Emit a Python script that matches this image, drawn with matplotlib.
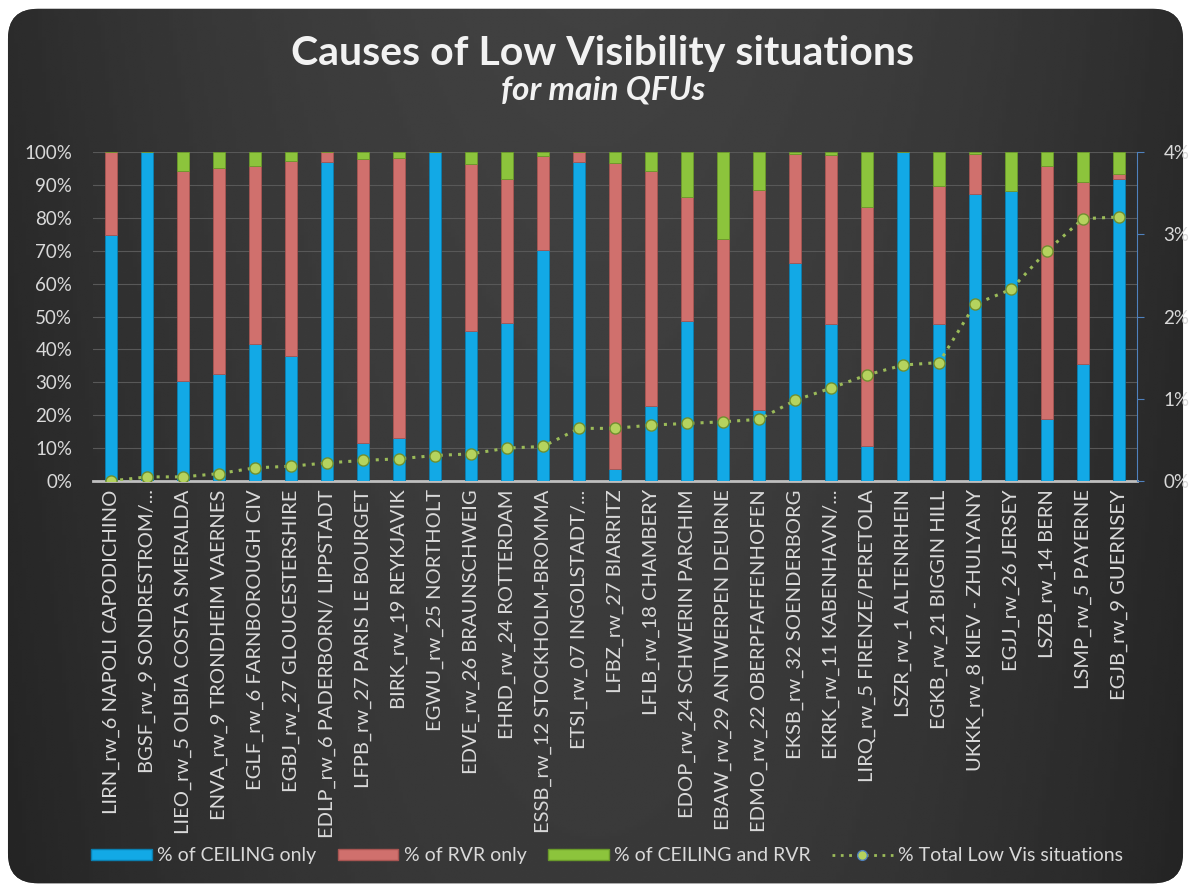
import matplotlib
matplotlib.use("Agg")
import matplotlib.pyplot as plt
import numpy as np
from matplotlib.patches import FancyBboxPatch
from matplotlib.lines import Line2D
from matplotlib.patches import Patch
from matplotlib.ticker import PercentFormatter

categories = [
    "LIRN_rw_6 NAPOLI CAPODICHINO", "BGSF_rw_9 SONDRESTROM/...", "LIEO_rw_5 OLBIA COSTA SMERALDA",
    "ENVA_rw_9 TRONDHEIM VAERNES", "EGLF_rw_6 FARNBOROUGH CIV", "EGBJ_rw_27 GLOUCESTERSHIRE",
    "EDLP_rw_6 PADERBORN/ LIPPSTADT", "LFPB_rw_27 PARIS LE BOURGET", "BIRK_rw_19 REYKJAVIK",
    "EGWU_rw_25 NORTHOLT", "EDVE_rw_26 BRAUNSCHWEIG", "EHRD_rw_24 ROTTERDAM",
    "ESSB_rw_12 STOCKHOLM-BROMMA", "ETSI_rw_07 INGOLSTADT/...", "LFBZ_rw_27 BIARRITZ",
    "LFLB_rw_18 CHAMBERY", "EDOP_rw_24 SCHWERIN PARCHIM", "EBAW_rw_29 ANTWERPEN DEURNE",
    "EDMO_rw_22 OBERPFAFFENHOFEN", "EKSB_rw_32 SOENDERBORG", "EKRK_rw_11 KABENHAVN/...",
    "LIRQ_rw_5 FIRENZE/PERETOLA", "LSZR_rw_1 ALTENRHEIN", "EGKB_rw_21 BIGGIN HILL",
    "UKKK_rw_8 KIEV - ZHULYANY", "EGJJ_rw_26 JERSEY", "LSZB_rw_14 BERN",
    "LSMP_rw_5 PAYERNE", "EGJB_rw_9 GUERNSEY",
]

ceiling_only = [74.8, 100, 30.5, 32.6, 41.5, 37.9, 96.9, 11.7, 13.0, 100, 45.7, 47.9, 70.3, 97.0,
                3.6, 22.8, 48.7, 18.5, 21.5, 66.3, 47.7, 10.7, 100, 47.7, 87.2, 88.3, 18.9, 35.7, 91.8]
rvr_only = [25.2, 0, 63.7, 62.6, 54.4, 59.4, 3.1, 86.1, 85.3, 0, 50.7, 44.0, 28.4, 3.0,
            93.0, 71.4, 37.6, 55.1, 67.0, 33.2, 51.3, 72.5, 0, 42.1, 12.3, 0, 77.0, 55.1, 1.6]
both = [0, 0, 5.8, 4.8, 4.1, 2.7, 0, 2.2, 1.7, 0, 3.6, 8.1, 1.3, 0,
        3.4, 5.8, 13.7, 26.4, 11.5, 0.5, 1.0, 16.8, 0, 10.2, 0.5, 11.7, 4.1, 9.2, 6.6]
total_low_vis = [0.00, 0.05, 0.05, 0.09, 0.16, 0.18, 0.22, 0.25, 0.27, 0.31, 0.33, 0.40, 0.42, 0.64,
                 0.64, 0.68, 0.70, 0.72, 0.75, 0.98, 1.13, 1.29, 1.41, 1.44, 2.15, 2.33, 2.80, 3.19, 3.21]

C_BLUE = "#12a9e6"
C_RED = "#d0706d"
C_GREEN = "#8cc43c"
C_LINE = "#9bbb59"
TXT = "#d9d9d9"
FONT = ["Lato", "DejaVu Sans"]

fig = plt.figure(figsize=(11.91, 8.85), dpi=100)
fig.patch.set_facecolor("white")

# background panel with gradient
bg = fig.add_axes([0, 0, 1, 1], zorder=-10)
bg.set_xlim(0, 1)
bg.set_ylim(0, 1)
bg.axis("off")
panel = FancyBboxPatch((0.0067, 0.002), 0.9866, 0.988,
                       boxstyle="round,pad=0,rounding_size=0.025",
                       mutation_aspect=1191 / 885,
                       transform=bg.transAxes, facecolor="#363636", edgecolor="none", zorder=1)
bg.add_patch(panel)
yy, xx = np.mgrid[0:1:300j, 0:1:300j]
grad = 0.255 - 0.085 * ((xx - 0.5) / 0.5) ** 2 - 0.03 * (1 - yy)
img = bg.imshow(grad, extent=[0, 1, 0, 1], origin="lower", cmap="gray", vmin=0, vmax=1,
                aspect="auto", interpolation="bilinear", zorder=2)
img.set_clip_path(panel)

ax = fig.add_axes([0.0781, 0.4565, 0.8766, 0.3717])
ax.set_facecolor("none")
x = np.arange(len(categories))
w = 0.32
c = np.array(ceiling_only)
r = np.array(rvr_only)
b = np.array(both)
ax.bar(x, c, w, color=C_BLUE, edgecolor="#0a7fb0", linewidth=0.6, zorder=3)
ax.bar(x, r, w, bottom=c, color=C_RED, edgecolor="#a85552", linewidth=0.6, zorder=3)
ax.bar(x, b, w, bottom=c + r, color=C_GREEN, edgecolor="#6a9a2a", linewidth=0.6, zorder=3)
ax.set_xlim(-0.5, len(categories) - 0.5)
ax.set_ylim(0, 100)
ax.set_yticks(np.arange(0, 101, 10))
ax.yaxis.set_major_formatter(PercentFormatter(decimals=0))
ax.grid(axis="y", color="#585858", linewidth=0.8, zorder=0)
ax.set_axisbelow(True)
for s in ["left", "top", "right"]:
    ax.spines[s].set_visible(False)
ax.spines["bottom"].set_color("#bfbfbf")
ax.spines["bottom"].set_linewidth(2)
ax.tick_params(axis="y", length=0, labelcolor=TXT, labelsize=13.5, pad=15)
ax.tick_params(axis="x", length=0, labelcolor=TXT, pad=6)
ax.set_xticks(x)
ax.set_xticklabels(categories, rotation=90, ha="center", va="top", fontsize=14.5, family=FONT)

ax2 = ax.twinx()
ax2.set_ylim(0, 4)
ax2.set_yticks([0, 1, 2, 3, 4])
ax2.set_yticklabels(["0%", "1%", "2%", "3%", "4%"])
for s in ["left", "top", "bottom"]:
    ax2.spines[s].set_visible(False)
ax2.spines["right"].set_color("#4f81bd")
ax2.spines["right"].set_linewidth(0.8)
ax2.tick_params(axis="y", direction="out", length=5, color="#4f81bd", labelcolor=TXT,
                labelsize=13.5, pad=14)
ax2.plot(x, total_low_vis, linestyle=(0, (1, 2)), color=C_LINE, linewidth=2.2,
         marker="o", markersize=8, markerfacecolor="#b5d35e", markeredgecolor="#6f8f30",
         markeredgewidth=1, zorder=5)

for a in (ax, ax2):
    for lbl in a.get_yticklabels():
        lbl.set_family(FONT)

fig.text(0.506, 0.940, "Causes of Low Visibility situations", ha="center", va="center",
         fontsize=29.5, fontweight="bold", color="#f2f2f2", family=FONT)
fig.text(0.506, 0.898, "for main QFUs", ha="center", va="center", fontsize=24,
         fontstyle="italic", fontweight="bold", color="#f2f2f2", family=FONT)

handles = [
    Patch(facecolor=C_BLUE, edgecolor="#0a7fb0"),
    Patch(facecolor=C_RED, edgecolor="#a85552"),
    Patch(facecolor=C_GREEN, edgecolor="#6a9a2a"),
    Line2D([0], [0], linestyle=(0, (1, 2)), color=C_LINE, linewidth=2, marker="o", markersize=7,
           markerfacecolor="#b5d35e", markeredgecolor="#4f81bd"),
]
labels = ["% of CEILING only", "% of RVR only", "% of CEILING and RVR", "% Total Low Vis situations"]
leg = fig.legend(handles, labels, loc="center", bbox_to_anchor=(0.51, 0.033), ncol=4,
                 frameon=False, handlelength=3.1, handleheight=0.55, columnspacing=1.1,
                 handletextpad=0.3, prop={"family": FONT, "size": 14})
for t in leg.get_texts():
    t.set_color(TXT)

fig.savefig("out.png", dpi=100, facecolor=fig.get_facecolor())
